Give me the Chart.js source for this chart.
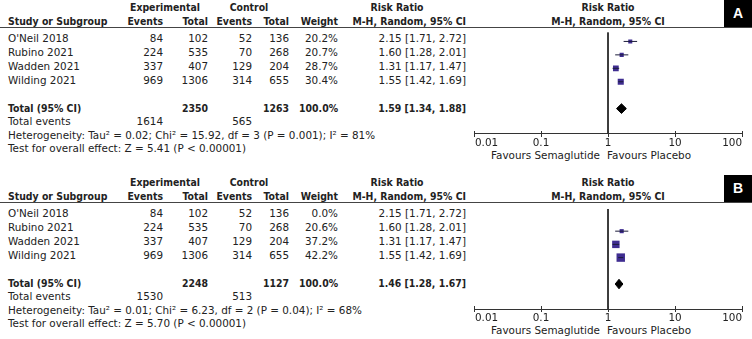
<!DOCTYPE html>
<html lang="en">
  <head>
    <meta charset="UTF-8" />
    <title>Forest plot</title>
    <script src="https://cdn.jsdelivr.net/npm/chart.js"></script>
    <style>
      body {
        margin: 0;
        background: #fff;
      }
      #wrap {
        position: relative;
        width: 752px;
        height: 339px;
        overflow: hidden;
        font-family: "DejaVu Sans", sans-serif;
        font-size: 10.4px;
        color: #222;
      }
      .t {
        position: absolute;
        line-height: 14px;
        white-space: nowrap;
      }
      .b {
        font-family: "DejaVu Sans Condensed", "DejaVu Sans", sans-serif;
        font-weight: bold;
      }
      .rule {
        position: absolute;
        left: 0;
        width: 752px;
        height: 1px;
        background: #444;
      }
      .tag {
        position: absolute;
        left: 724px;
        width: 28px;
        height: 27px;
        background: #000;
        color: #fff;
        font: bold 14px "Liberation Sans", Arial, sans-serif;
        line-height: 27px;
        text-align: center;
      }
      canvas {
        position: absolute;
        left: 440px;
      }
    </style>
  </head>
  <body>
    <div id="wrap"></div>

    <script>
      const studies = ["O'Neil 2018", "Rubino 2021", "Wadden 2021", "Wilding 2021"];
      const expEvents = [84, 224, 337, 969];
      const expTotal = [102, 535, 407, 1306];
      const ctrlEvents = [52, 70, 129, 314];
      const ctrlTotal = [136, 268, 204, 655];
      const rr = [2.15, 1.6, 1.31, 1.55];
      const rrLow = [1.71, 1.28, 1.17, 1.42];
      const rrHigh = [2.72, 2.01, 1.47, 1.69];

      const weightsA = [20.2, 20.7, 28.7, 30.4];
      const weightsB = [0.0, 20.6, 37.2, 42.2];

      const panelLabels = ["A", "B"];
      const sumExpTotal = [2350, 2248];
      const sumCtrlTotal = [1263, 1127];
      const sumExpEvents = [1614, 1530];
      const sumCtrlEvents = [565, 513];
      const pooled = [1.59, 1.46];
      const pooledLow = [1.34, 1.28];
      const pooledHigh = [1.88, 1.67];
      const tau2 = ["0.02", "0.01"];
      const chi2 = ["15.92", "6.23"];
      const df = [3, 2];
      const hetP = ["0.001", "0.04"];
      const i2 = [81, 68];
      const zVal = ["5.41", "5.70"];

      const tickVals = [0.01, 0.1, 1, 10, 100];
      const tickLabels = ["0.01", "0.1", "1", "10", "100"];

      // layout
      const PANEL_TOP = [0, 175];
      const ROW0 = 37.5;
      const PITCH = 14;
      const Y_MIN = -0.68;
      const Y_MAX = 6.89;
      const TOTAL_ROW = 5;
      const TICK_FONT = '10.4px "DejaVu Sans", sans-serif';

      const wrap = document.getElementById("wrap");

      function txt(x, y, s, align, bold) {
        const d = document.createElement("div");
        d.className = "t" + (bold ? " b" : "");
        d.textContent = s;
        d.style.top = y - 7 + "px";
        if (align === "r") {
          d.style.right = 752 - x + "px";
        } else if (align === "c") {
          d.style.left = x + "px";
          d.style.transform = "translateX(-50%)";
        } else {
          d.style.left = x + "px";
        }
        wrap.appendChild(d);
      }

      function ci(v, lo, hi) {
        return v.toFixed(2) + " [" + lo.toFixed(2) + ", " + hi.toFixed(2) + "]";
      }

      function drawTable(p, weights) {
        const o = PANEL_TOP[p];
        txt(165, o + 7, "Experimental", "c", true);
        txt(249, o + 7, "Control", "c", true);
        txt(397, o + 7, "Risk Ratio", "c", true);
        txt(608, o + 7, "Risk Ratio", "c", true);

        txt(8, o + 21, "Study or Subgroup", "l", true);
        txt(163, o + 21, "Events", "r", true);
        txt(208, o + 21, "Total", "r", true);
        txt(252, o + 21, "Events", "r", true);
        txt(289, o + 21, "Total", "r", true);
        txt(338, o + 21, "Weight", "r", true);
        txt(466, o + 21, "M-H, Random, 95% CI", "r", true);
        txt(608, o + 21, "M-H, Random, 95% CI", "c", true);

        const rule = document.createElement("div");
        rule.className = "rule";
        rule.style.top = o + 27 + "px";
        wrap.appendChild(rule);

        const tag = document.createElement("div");
        tag.className = "tag";
        tag.style.top = o + "px";
        tag.textContent = panelLabels[p];
        wrap.appendChild(tag);

        studies.forEach((s, i) => {
          const y = o + ROW0 + i * PITCH;
          txt(8, y, s, "l");
          txt(163, y, String(expEvents[i]), "r");
          txt(208, y, String(expTotal[i]), "r");
          txt(252, y, String(ctrlEvents[i]), "r");
          txt(289, y, String(ctrlTotal[i]), "r");
          txt(338, y, weights[i].toFixed(1) + "%", "r");
          txt(466, y, ci(rr[i], rrLow[i], rrHigh[i]), "r");
        });

        const ty = o + ROW0 + TOTAL_ROW * PITCH;
        txt(8, ty, "Total (95% CI)", "l", true);
        txt(208, ty, String(sumExpTotal[p]), "r", true);
        txt(289, ty, String(sumCtrlTotal[p]), "r", true);
        txt(338, ty, "100.0%", "r", true);
        txt(466, ty, ci(pooled[p], pooledLow[p], pooledHigh[p]), "r", true);

        txt(8, o + 121, "Total events", "l");
        txt(163, o + 121, String(sumExpEvents[p]), "r");
        txt(252, o + 121, String(sumCtrlEvents[p]), "r");
        txt(
          8,
          o + 135,
          "Heterogeneity: Tau\u00b2 = " + tau2[p] + "; Chi\u00b2 = " + chi2[p] +
            ", df = " + df[p] + " (P = " + hetP[p] + "); I\u00b2 = " + i2[p] + "%",
          "l"
        );
        txt(8, o + 148, "Test for overall effect: Z = " + zVal[p] + " (P < 0.00001)", "l");

        txt(600, o + 155, "Favours Semaglutide", "r");
        txt(607, o + 155, "Favours Placebo", "l");
      }

      // ticks crossing the axis line, and end labels tucked inside the axis span
      const axisDeco = {
        id: "axisDeco",
        afterDraw(chart) {
          const sx = chart.scales.x;
          const ctx = chart.ctx;
          const yb = chart.chartArea.bottom;
          ctx.save();
          ctx.strokeStyle = "#333";
          ctx.lineWidth = 1;
          sx.ticks.forEach((t) => {
            const x = Math.round(sx.getPixelForValue(t.value)) + 0.5;
            ctx.beginPath();
            ctx.moveTo(x, yb - 3);
            ctx.lineTo(x, yb);
            ctx.stroke();
          });
          ctx.fillStyle = "#222";
          ctx.font = TICK_FONT;
          ctx.textBaseline = "middle";
          const last = sx.ticks.length - 1;
          sx.ticks.forEach((t, i) => {
            ctx.textAlign = i === 0 ? "left" : i === last ? "right" : "center";
            const x = sx.getPixelForValue(t.value) + (i === 0 ? 1 : 0);
            ctx.fillText(tickLabels[tickVals.indexOf(t.value)], x, yb + 9.5);
          });
          ctx.restore();
        },
      };

      function drawPlot(p, weights) {
        const cv = document.createElement("canvas");
        cv.width = 312;
        cv.height = 126;
        cv.style.top = PANEL_TOP[p] + 28 + "px";
        wrap.appendChild(cv);

        const datasets = [];
        datasets.push({
          data: [
            { x: 1, y: Y_MIN },
            { x: 1, y: Y_MAX },
          ],
          showLine: true,
          borderColor: "#222",
          borderWidth: 1,
          pointRadius: 0,
        });

        studies.forEach((s, i) => {
          if (weights[i] === 0) return;
          datasets.push({
            data: [
              { x: rrLow[i], y: i },
              { x: rrHigh[i], y: i },
            ],
            showLine: true,
            borderColor: "#1c1c3a",
            borderWidth: 1,
            pointRadius: 0,
          });
        });

        datasets.push({
          data: studies
            .map((s, i) => ({ x: rr[i], y: i, w: weights[i] }))
            .filter((d) => d.w > 0),
          pointStyle: "rect",
          pointRadius: (ctx) => ctx.raw.w * 0.1414,
          backgroundColor: "#3f2d91",
          borderColor: "#3f2d91",
          borderWidth: 0,
        });

        const h = 0.36;
        datasets.push({
          data: [
            { x: pooledLow[p], y: TOTAL_ROW },
            { x: pooled[p], y: TOTAL_ROW - h },
            { x: pooledHigh[p], y: TOTAL_ROW },
            { x: pooled[p], y: TOTAL_ROW + h },
            { x: pooledLow[p], y: TOTAL_ROW },
          ],
          showLine: true,
          fill: "shape",
          backgroundColor: "#000",
          borderColor: "#000",
          borderWidth: 1,
          pointRadius: 0,
        });

        new Chart(cv, {
          type: "scatter",
          data: { datasets },
          options: {
            responsive: false,
            animation: false,
            events: [],
            layout: { padding: { left: 34, right: 10, top: 0, bottom: 0 } },
            plugins: { legend: { display: false }, tooltip: { enabled: false } },
            scales: {
              x: {
                type: "logarithmic",
                min: 0.01,
                max: 100,
                afterBuildTicks: (s) => {
                  s.ticks = tickVals.map((v) => ({ value: v }));
                },
                afterFit: (s) => {
                  s.height = 20;
                },
                ticks: { display: false },
                grid: { drawOnChartArea: false, tickLength: 3, color: "#333" },
                border: { color: "#333", width: 1 },
              },
              y: {
                type: "linear",
                reverse: true,
                min: Y_MIN,
                max: Y_MAX,
                display: false,
              },
            },
          },
          plugins: [axisDeco],
        });
      }

      drawTable(0, weightsA);
      drawPlot(0, weightsA);
      drawTable(1, weightsB);
      drawPlot(1, weightsB);
    </script>
  </body>
</html>
